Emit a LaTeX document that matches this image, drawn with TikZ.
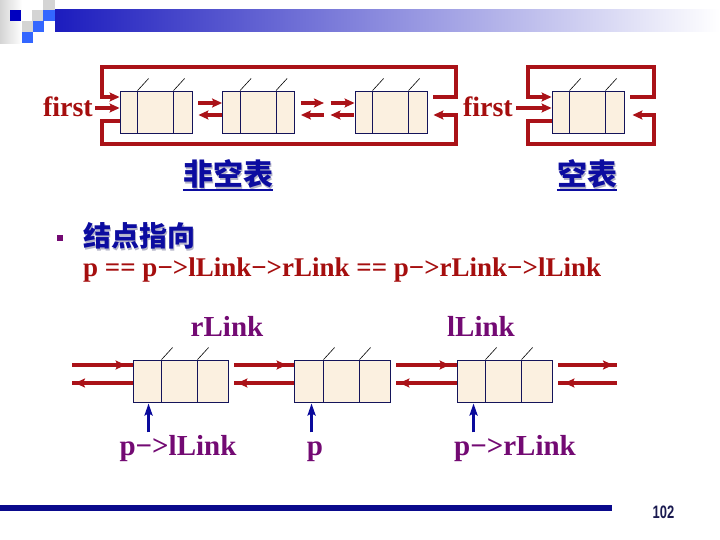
\documentclass[tikz,border=0pt]{standalone}
\usepackage{fontspec}
\usepackage{graphicx}
\setmainfont{Liberation Serif}
\setsansfont{Liberation Sans}
\newfontfamily\cjk{Noto Sans CJK SC}
\usetikzlibrary{arrows.meta,calc}
\definecolor{linkred}{HTML}{AA1218}
\definecolor{textred}{HTML}{A50E0E}
\definecolor{lblpurple}{HTML}{730A73}
\definecolor{cjkblue}{HTML}{0C0CA0}
\definecolor{cjkshadow}{HTML}{B4B4C8}
\definecolor{boxline}{HTML}{14145A}
\definecolor{boxfill}{HTML}{FBF0E0}
\definecolor{arrowblue}{HTML}{0A0A9C}
\definecolor{barnavy}{HTML}{0A0A8C}
\definecolor{pagenavy}{HTML}{1A1A50}
\definecolor{barblue}{HTML}{1C1CBE}
\definecolor{midblue}{HTML}{3366FF}
\definecolor{darkblue}{HTML}{0000C0}
\definecolor{lgray}{HTML}{D4D4D4}
\begin{document}
\begin{tikzpicture}[x=1pt,y=-1pt,
  cellbox/.style={draw=boxline, fill=boxfill, line width=0.9pt, inner sep=0pt, minimum height=42pt},
  divider/.style={draw=boxline, line width=0.9pt},
  slash/.style={draw=black, line width=0.6pt},
  link/.style={draw=linkred, line width=4.2pt},
  larrow/.style={link, -{Stealth[length=10pt,width=9pt,inset=2pt]}},
  barrow/.style={draw=arrowblue, line width=3.8pt, -{Stealth[length=12pt,width=8pt,inset=2pt]}},
  firstlbl/.style={font=\fontsize{28}{30}\selectfont\bfseries, text=textred, inner sep=0pt},
  plbl/.style={font=\fontsize{29}{31}\selectfont\bfseries, text=lblpurple, inner sep=0pt, anchor=base},
  cjkt/.style={font=\cjk\bfseries\fontsize{30}{32}\selectfont, text=cjkblue, inner sep=0pt},
  cjks/.style={font=\cjk\bfseries\fontsize{30}{32}\selectfont, text=cjkshadow, inner sep=0pt},
  uline/.style={draw=cjkblue, line width=2pt}
]
\useasboundingbox (0,0) rectangle (720,540);
\fill[white] (0,0) rectangle (720,540);

% header decoration
\shade[left color=lgray, right color=white] (0,0) rectangle (22,44);
\fill[darkblue] (10,10) rectangle (21,21);
\fill[lgray] (32,10) rectangle (43,21);
\fill[lgray] (43,0) rectangle (55,10);
\fill[midblue] (43,10) rectangle (55,21);
\fill[lgray] (22,21) rectangle (33,32);
\fill[midblue] (33,21) rectangle (44,32);
\fill[midblue] (22,32) rectangle (33,43);
\shade[left color=barblue, right color=white] (55,10) rectangle (720,32);

% top nodes
\node[cellbox, minimum width=72pt] (n1) at (156,112) {};
\node[cellbox, minimum width=72pt] (n2) at (258.5,112) {};
\node[cellbox, minimum width=72pt] (n3) at (391,112) {};
\node[cellbox, minimum width=72pt] (n4) at (588,112) {};
% bottom nodes
\node[cellbox, minimum width=95pt] (m1) at (180.5,381) {};
\node[cellbox, minimum width=96pt] (m2) at (342,381) {};
\node[cellbox, minimum width=95pt] (m3) at (504.5,381) {};

\foreach \n/\a/\b in {n1/18/54, n2/18/54, n3/18/54, n4/18/54, m1/29/65, m2/30/66, m3/29/65} {
  \draw[divider] ([xshift=\a pt]\n.north west) -- ([xshift=\a pt]\n.south west);
  \draw[divider] ([xshift=\b pt]\n.north west) -- ([xshift=\b pt]\n.south west);
  \draw[slash] ([xshift=\a pt]\n.north west) -- ++(11,-12);
  \draw[slash] ([xshift=\b pt]\n.north west) -- ++(11,-12);
}

% labels top
\node[firstlbl, anchor=base east] (f1) at (93,117) {first};
\node[firstlbl, anchor=base east] (f2) at (513,117) {first};

% top non-empty list links
\draw[larrow] ($(f1.base east)+(2,-9)$) -- ($(n1.west)+(0,-4)$);
\draw[larrow] ($(n3.east)+(6,-15)$) -- (456,97) -- (456,67) -- (102,67) -- (102,97) -- ($(n1.west)+(0,-15)$);
\draw[larrow] ($(n1.west)+(0,9)$) -- (102,121) -- (102,144) -- (456,144) -- (456,115) -- ($(n3.east)+(6,3)$);
\draw[larrow] ($(n1.east)+(6,-9)$) -- ($(n2.west)+(0,-9)$);
\draw[larrow] ($(n2.west)+(0,3)$) -- ($(n1.east)+(6,3)$);
\draw[larrow] ($(n2.east)+(6,-9)$) -- ($(n2.east)+(29,-9)$);
\draw[larrow] ($(n2.east)+(29,3)$) -- ($(n2.east)+(6,3)$);
\draw[larrow] ($(n3.west)+(-24,-9)$) -- ($(n3.west)+(0,-9)$);
\draw[larrow] ($(n3.west)+(-1,3)$) -- ($(n3.west)+(-24,3)$);

% empty list links
\draw[larrow] ($(f2.base east)+(3,-9)$) -- ($(n4.west)+(0,-4)$);
\draw[larrow] ($(n4.east)+(6,-15)$) -- (654,97) -- (654,67) -- (528,67) -- (528,97) -- ($(n4.west)+(0,-15)$);
\draw[larrow] ($(n4.west)+(0,9)$) -- (528,121) -- (528,144) -- (654,144) -- (654,115) -- ($(n4.east)+(8,3)$);

% chinese captions
\node[cjks] (t1s) at (229.5,175.5) {非空表};
\node[cjkt] (t1) at (228,174) {非空表};
\draw[uline] ($(t1.south west)+(0,1)$) -- ($(t1.south east)+(0,1)$);
\node[cjks] (t2s) at (588.5,175.5) {空表};
\node[cjkt] (t2) at (587,174) {空表};
\draw[uline] ($(t2.south west)+(0,1)$) -- ($(t2.south east)+(0,1)$);

% bullet and text
\node[fill=lblpurple, minimum size=6.5pt, inner sep=0pt] (bul) at (60,238) {};
\node[cjks, font=\cjk\bfseries\fontsize{28}{30}\selectfont] (jd s) at (140.5,237.5) {结点指向};
\node[cjkt, font=\cjk\bfseries\fontsize{28}{30}\selectfont] (jd) at (139,236) {结点指向};
\node[anchor=base west, font=\fontsize{27}{30}\selectfont\bfseries, text=textred, inner sep=0pt] (eq) at (83,276) {p == p−>lLink−>rLink == p−>rLink−>lLink};

% bottom labels
\node[plbl] (rl) at (227,336) {rLink};
\node[plbl] (ll) at (481,336) {lLink};
\node[plbl] (pl) at (178,455) {p−>lLink};
\node[plbl] (pp) at (315,455) {p};
\node[plbl] (pr) at (515,455) {p−>rLink};

% bottom red links
\draw[link] (72,365) -- ($(m1.west)+(0,-16)$);
\draw[larrow] (72,365) -- ($(m1.west)+(-7,-16)$);
\draw[link] ($(m1.west)+(0,2)$) -- (72,383);
\draw[larrow] (92,383) -- (75,383);

\draw[link] ($(m1.east)+(6,-16)$) -- ($(m2.west)+(0,-16)$);
\draw[larrow] ($(m1.east)+(6,-16)$) -- ($(m2.west)+(-7,-16)$);
\draw[link] ($(m2.west)+(0,2)$) -- ($(m1.east)+(6,2)$);
\draw[larrow] ($(m1.east)+(26,2)$) -- ($(m1.east)+(9,2)$);

\draw[link] ($(m2.east)+(6,-16)$) -- ($(m3.west)+(0,-16)$);
\draw[larrow] ($(m2.east)+(6,-16)$) -- ($(m3.west)+(-7,-16)$);
\draw[link] ($(m3.west)+(0,2)$) -- ($(m2.east)+(6,2)$);
\draw[larrow] ($(m2.east)+(26,2)$) -- ($(m2.east)+(9,2)$);

\draw[link] ($(m3.east)+(6,-16)$) -- (617,365);
\draw[larrow] ($(m3.east)+(6,-16)$) -- (613,365);
\draw[link] (617,383) -- ($(m3.east)+(6,2)$);
\draw[larrow] ($(m3.east)+(30,2)$) -- ($(m3.east)+(12,2)$);

% blue pointers
\draw[barrow] ($(m1.south west)+(16,30)$) -- ($(m1.south west)+(16,1)$);
\draw[barrow] ($(m2.south west)+(18,30)$) -- ($(m2.south west)+(18,1)$);
\draw[barrow] ($(m3.south west)+(17,30)$) -- ($(m3.south west)+(17,1)$);

% footer
\fill[barnavy] (0,505) rectangle (612,511);
\node[font=\sffamily\bfseries\fontsize{18}{20}\selectfont, text=pagenavy, inner sep=0pt] (pg) at (663.5,512) {\scalebox{0.72}[1]{102}};
\end{tikzpicture}
\end{document}
